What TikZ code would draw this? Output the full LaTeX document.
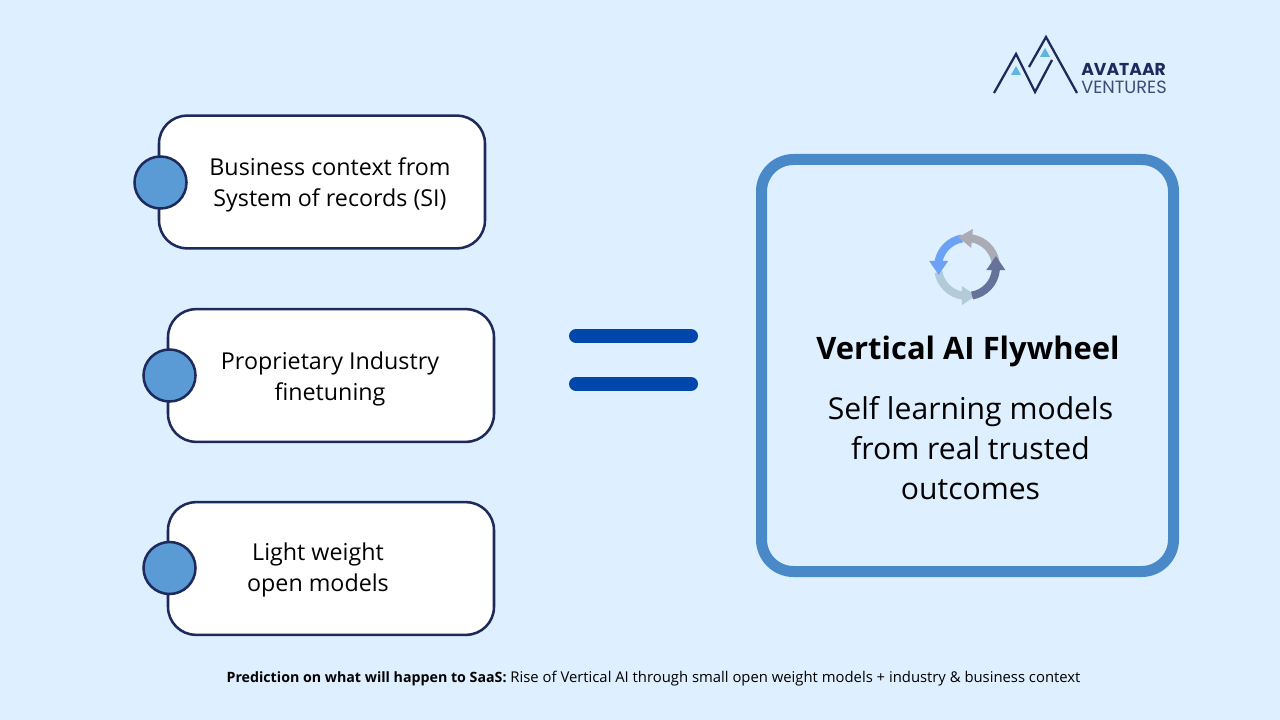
\documentclass[tikz,border=0pt]{standalone}
\usepackage{fontspec}
\setmainfont{Open Sans}
\newfontfamily\logofont{Poppins}
\usepackage{tikz}
\usetikzlibrary{arrows.meta}
\definecolor{skybg}{HTML}{DEEFFF}
\definecolor{navy}{HTML}{1F2A5C}
\definecolor{dotblue}{HTML}{5B9BD5}
\definecolor{framblue}{HTML}{4A89C8}
\definecolor{eqblue}{HTML}{0047AB}
\definecolor{logocyan}{HTML}{5CB6E0}
\definecolor{wheelgray}{HTML}{ABABB5}
\definecolor{wheelblue}{HTML}{6CA2F5}
\definecolor{wheelpale}{HTML}{B2CBD6}
\definecolor{wheeldark}{HTML}{667299}
\tikzset{
  inbox/.style={draw=navy,line width=1.9pt,fill=white,rounded corners=21pt,minimum width=244.5pt,minimum height=99.5pt},
  dot/.style={circle,draw=navy,line width=1.9pt,fill=dotblue,minimum size=39pt,inner sep=0pt},
  boxtext/.style={align=center,font=\fontsize{17.45}{23.25}\selectfont},
  eqbar/.style={eqblue,line width=10.5pt,line cap=round},
  logoline/.style={navy,line width=1.7pt,line join=miter},
  wheelarc/.style={line width=6pt,-{Triangle[length=10.5pt,width=13.5pt]}},
}
\begin{document}
\begin{tikzpicture}[x=0.75pt,y=-0.75pt]
\useasboundingbox[fill=skybg] (0,0) rectangle (1280,720);
% left column
\node[inbox] (b1) at (322,182) {};
\node[inbox] (b2) at (331,375.5) {};
\node[inbox] (b3) at (331,568.5) {};
\node[dot] (d1) at (160.5,182.5) {};
\node[dot] (d2) at (169.5,375.5) {};
\node[dot] (d3) at (169.5,568) {};
\node[boxtext] (t1) at (330,184.5) {Business context from\\System of records (SI)};
\node[boxtext] (t2) at (330,379) {Proprietary Industry\\finetuning};
\node[boxtext] (t3) at (318,570) {Light weight\\open models};
% equals
\coordinate (e1) at (576,336); \coordinate (e2) at (691,336);
\coordinate (e3) at (576,384); \coordinate (e4) at (691,384);
\draw[eqbar] (e1) -- (e2);
\draw[eqbar] (e3) -- (e4);
% right box
\node[draw=framblue,line width=8.25pt,rounded corners=24pt,minimum width=309pt,minimum height=309pt] (fly) at (967.5,365.5) {};
\node[font=\fontsize{23.2}{30}\selectfont\bfseries] (flyt) at (968,351.5) {Vertical AI Flywheel};
\node[align=center,font=\fontsize{22.6}{30}\selectfont] (flys) at (970.5,448.5) {Self learning models\\from real trusted\\outcomes};
% wheel
\coordinate (w) at (967,267);
\draw[wheelarc,wheelpale] ([shift={(190:21.75pt)}]w) arc[start angle=190,end angle=260,radius=21.75pt] -- ++(0:10.5pt);
\draw[wheelarc,wheelblue] ([shift={(100:21.75pt)}]w) arc[start angle=100,end angle=168,radius=21.75pt] -- ++(270:10.5pt);
\draw[wheelarc,wheelgray] ([shift={(10:21.75pt)}]w) arc[start angle=10,end angle=80,radius=21.75pt] -- ++(175:10.5pt);
\draw[wheelarc,wheeldark] ([shift={(280:21.75pt)}]w) arc[start angle=280,end angle=354,radius=21.75pt] -- ++(90:10.5pt);
% logo
\coordinate (l1) at (994,93); \coordinate (l2) at (1016,54); \coordinate (l3) at (1035,92);
\coordinate (l4) at (1052,60); \coordinate (l5) at (1029,67); \coordinate (l6) at (1046,37);
\coordinate (l7) at (1077,93);
\draw[logoline] (l1) -- (l2) -- (l3) -- (l4);
\draw[logoline] (l5) -- (l6) -- (l7);
\fill[logocyan] (1011,75) -- (1016,66) -- (1021,75) -- cycle;
\fill[logocyan] (1040,57) -- (1045,48) -- (1050,57) -- cycle;
\node[anchor=west,inner sep=0pt,text=navy,font=\logofont\fontsize{12.9}{14}\selectfont\bfseries] (av) at (1081,69) {AVATAAR};
\node[anchor=west,inner sep=0pt,text=navy!85,font=\logofont\fontsize{13.3}{14}\selectfont] (ve) at (1081,87) {VENTURES};
% footer
\node[font=\fontsize{11.13}{13}\selectfont] (foot) at (653.5,679) {{\fontsize{10.66}{13}\selectfont\bfseries Prediction on what will happen to SaaS:} Rise of Vertical AI through small open weight models + industry \& business context};
\end{tikzpicture}
\end{document}
